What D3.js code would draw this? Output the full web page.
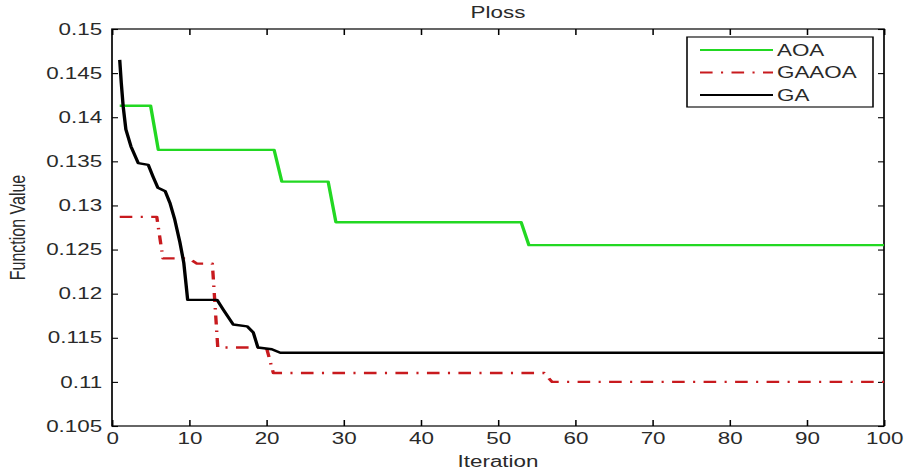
<!DOCTYPE html>
<html>
<head>
<meta charset="utf-8">
<script src="https://cdn.jsdelivr.net/npm/d3@7"></script>
<style>
  html, body { margin: 0; padding: 0; background: #fff; }
  svg { display: block; }
  text { font-family: "Liberation Sans", Arial, Helvetica, sans-serif; fill: #2a2a2a; }
</style>
</head>
<body>
<script>
// ---------------- data ----------------
const chartTitle = "Ploss";
const xLabel = "Iteration";
const yLabel = "Function Value";
const seriesNames = ["AOA", "GAAOA", "GA"];

const iterAOA = [1, 5, 6, 21, 22, 28, 29, 53, 54, 100];
const valAOA  = [0.1413, 0.1413, 0.1363, 0.1363, 0.1327, 0.1327, 0.1281, 0.1281, 0.1255, 0.1255];

const iterGAAOA = [1, 5.8, 6.6, 10, 11, 13, 13.7, 20, 20.9, 56, 57, 100];
const valGAAOA  = [0.1287, 0.1287, 0.1240, 0.1240, 0.1234, 0.1234, 0.1139, 0.1139, 0.1110, 0.1110, 0.1100, 0.1100];

const iterGA = [1, 1.2, 1.45, 1.8, 2.45, 3.4, 4.7, 5.3, 5.95, 6.9, 7.5, 8.1, 8.8, 9.3, 9.6, 9.8,
                13.6, 14.4, 15.7, 17.5, 18.3, 18.9, 20.7, 21.8, 100];
const valGA  = [0.1465, 0.1439, 0.1412, 0.1386, 0.1367, 0.1348, 0.1346, 0.1333, 0.1320, 0.1316, 0.1303, 0.1285, 0.1258, 0.1235, 0.1210, 0.1193,
                0.1193, 0.1182, 0.1165, 0.1163, 0.1156, 0.1139, 0.1137, 0.1133, 0.1133];

const xTicks = [0, 10, 20, 30, 40, 50, 60, 70, 80, 90, 100];
const yTicks = [0.105, 0.11, 0.115, 0.12, 0.125, 0.13, 0.135, 0.14, 0.145, 0.15];
const yTickLabels = ["0.105", "0.11", "0.115", "0.12", "0.125", "0.13", "0.135", "0.14", "0.145", "0.15"];

// ---------------- layout ----------------
const W = 908, H = 471;
const SX = 1.4;               // horizontal stretch of the original figure
const FS = 16;
const plotL = 112 / SX, plotR = 884 / SX, plotT = 29, plotB = 426;
const tickLen = 6;

const svg = d3.select("body").append("svg").attr("width", W).attr("height", H);
svg.append("rect").attr("width", W).attr("height", H).attr("fill", "#fff");

const g = svg.append("g").attr("transform", `scale(${SX},1)`);

const x = d3.scaleLinear().domain([0, 100]).range([plotL, plotR]);
const y = d3.scaleLinear().domain([0.105, 0.15]).range([plotB, plotT]);

// axes
const fmtY = d => yTickLabels[yTicks.indexOf(d)];
const axL = g.append("g").attr("transform", `translate(${plotL},0)`)
  .call(d3.axisLeft(y).tickValues(yTicks).tickFormat(fmtY).tickSizeInner(-tickLen / SX).tickSizeOuter(0).tickPadding(7));
const axB = g.append("g").attr("transform", `translate(0,${plotB})`)
  .call(d3.axisBottom(x).tickValues(xTicks).tickFormat(d3.format("d")).tickSizeInner(-tickLen).tickSizeOuter(0).tickPadding(7));
const axT = g.append("g").attr("transform", `translate(0,${plotT})`)
  .call(d3.axisTop(x).tickValues(xTicks).tickFormat("").tickSizeInner(-tickLen).tickSizeOuter(0));
const axR = g.append("g").attr("transform", `translate(${plotR},0)`)
  .call(d3.axisRight(y).tickValues(yTicks).tickFormat("").tickSizeInner(-tickLen / SX).tickSizeOuter(0));

[axL, axB, axT, axR].forEach(a => {
  a.selectAll(".domain").remove();
  a.selectAll(".tick line").attr("stroke", "#000").attr("stroke-width", 1.1);
  a.selectAll(".tick text").attr("font-size", FS).attr("fill", "#2a2a2a")
    .attr("font-family", '"Liberation Sans", Arial, sans-serif');
});

// box
g.append("rect").attr("x", plotL).attr("y", plotT)
  .attr("width", plotR - plotL).attr("height", plotB - plotT)
  .attr("fill", "none").attr("stroke", "#000").attr("stroke-width", 1.2);

// series
const line = d3.line().x(d => x(d[0])).y(d => y(d[1]));
const series = [
  { name: seriesNames[0], pts: d3.zip(iterAOA, valAOA), color: "#22d822", w: 2.4, dash: null },
  { name: seriesNames[1], pts: d3.zip(iterGAAOA, valGAAOA), color: "#c81a1e", w: 2.4, dash: "9,6,1.5,6" },
  { name: seriesNames[2], pts: d3.zip(iterGA, valGA), color: "#000", w: 2.4, dash: null }
];
series.forEach(s => {
  g.append("path").attr("d", line(s.pts)).attr("fill", "none")
    .attr("stroke", s.color).attr("stroke-width", s.w)
    .attr("stroke-dasharray", s.dash).attr("stroke-linejoin", "round");
});

// title & labels
g.append("text").attr("x", (plotL + plotR) / 2).attr("y", 18)
  .attr("text-anchor", "middle").attr("font-size", FS).text(chartTitle);
g.append("text").attr("x", (plotL + plotR) / 2).attr("y", 467)
  .attr("text-anchor", "middle").attr("font-size", FS).text(xLabel);
g.append("text").attr("transform", `translate(${25 / SX},${(plotT + plotB) / 2}) rotate(-90)`)
  .attr("text-anchor", "middle").attr("font-size", FS).text(yLabel);

// legend
const lg = g.append("g");
lg.append("rect").attr("x", 687 / SX).attr("y", 37).attr("width", (873 - 687) / SX).attr("height", 70)
  .attr("fill", "#fff").attr("stroke", "#000").attr("stroke-width", 1.1);
series.forEach((s, i) => {
  const ly = 50 + i * 22.5;
  lg.append("line").attr("x1", 700 / SX).attr("x2", 773 / SX).attr("y1", ly).attr("y2", ly)
    .attr("stroke", s.color).attr("stroke-width", s.w * 0.85).attr("stroke-dasharray", s.dash);
  lg.append("text").attr("x", 777 / SX).attr("y", ly + 6).attr("font-size", FS).text(s.name);
});
</script>
</body>
</html>
